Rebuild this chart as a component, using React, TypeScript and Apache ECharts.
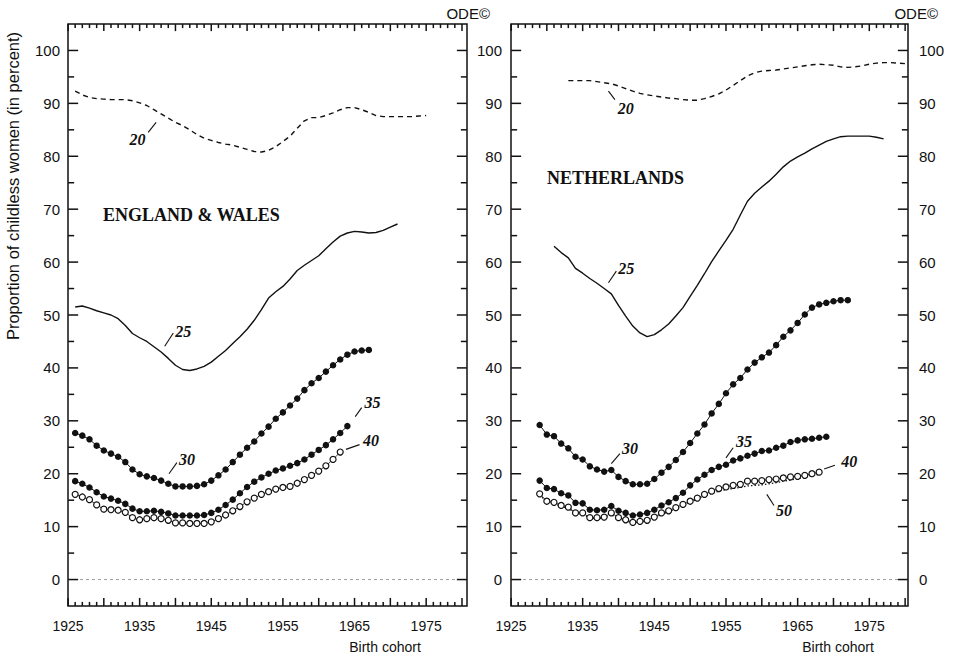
import React, { useEffect, useRef } from 'react';
import * as echarts from 'echarts';

// ---------- extents and tick positions ----------
const YEAR_MIN = 1925;
const EW_YEAR_MAX = 1980.7;
const NL_YEAR_MAX = 1980.4;
const PCT_MIN = -5;
const PCT_MAX = 105;

const yearMajorTicks = [1925, 1930, 1935, 1940, 1945, 1950, 1955, 1960, 1965, 1970, 1975, 1980];
const yearLabels = [1925, 1935, 1945, 1955, 1965, 1975];
const pctMajorTicks = [0, 10, 20, 30, 40, 50, 60, 70, 80, 90, 100];
const pctMinorTicks = [5, 15, 25, 35, 45, 55, 65, 75, 85, 95];
const yearMinorTicks: number[] = [];
for (let y = 1926; y <= 1980; y++) if (y % 5 !== 0) yearMinorTicks.push(y);

// ---------- England & Wales: proportion childless (%) by birth cohort, at each age ----------
const ew20Start = 1926;
const ew20 = [92.3, 91.6, 91.1, 90.9, 90.8, 90.7, 90.7, 90.7, 90.5, 90.1, 89.6, 88.8, 88.0, 87.2, 86.4, 85.8, 85.0, 84.1, 83.4, 83.0, 82.6, 82.3, 82.1, 81.7, 81.3, 80.9, 80.8, 81.1, 81.8, 82.8, 83.8, 85.3, 86.7, 87.3, 87.3, 87.7, 88.2, 88.8, 89.2, 89.2, 88.8, 88.3, 87.7, 87.5, 87.5, 87.5, 87.5, 87.5, 87.6, 87.7];
const ew25Start = 1926;
const ew25 = [51.5, 51.7, 51.3, 50.8, 50.4, 50.0, 49.3, 48.0, 46.5, 45.7, 45.0, 44.0, 43.0, 41.8, 40.5, 39.7, 39.5, 39.8, 40.3, 41.1, 42.2, 43.3, 44.6, 45.9, 47.3, 49.0, 51.0, 53.2, 54.4, 55.4, 56.8, 58.4, 59.4, 60.3, 61.2, 62.5, 63.8, 64.9, 65.5, 65.8, 65.7, 65.5, 65.6, 66.0, 66.6, 67.2];
const ew30Start = 1926;
const ew30 = [27.7, 27.2, 26.5, 25.3, 24.4, 23.8, 23.2, 22.2, 20.8, 19.9, 19.5, 19.2, 18.7, 18.1, 17.6, 17.6, 17.6, 17.7, 18.0, 18.7, 19.7, 20.8, 22.2, 23.6, 24.9, 26.1, 27.6, 28.9, 30.4, 31.6, 32.9, 34.2, 35.8, 37.1, 38.1, 39.3, 40.5, 41.6, 42.5, 43.1, 43.3, 43.4];
const ew35Start = 1926;
const ew35 = [18.6, 18.1, 17.4, 16.5, 15.7, 15.3, 14.9, 14.3, 13.4, 12.9, 12.9, 13.0, 12.8, 12.5, 12.1, 12.1, 12.1, 12.1, 12.2, 12.6, 13.2, 14.1, 15.1, 16.3, 17.5, 18.5, 19.3, 20.0, 20.6, 21.0, 21.5, 22.0, 22.7, 23.6, 24.5, 25.4, 26.5, 27.7, 29.0];
const ew40Start = 1926;
const ew40 = [16.1, 15.6, 15.1, 14.1, 13.3, 13.2, 13.1, 12.7, 11.7, 11.3, 11.5, 11.7, 11.5, 11.2, 10.7, 10.7, 10.6, 10.6, 10.6, 10.9, 11.5, 12.2, 13.0, 13.8, 14.7, 15.4, 16.1, 16.6, 17.1, 17.4, 17.6, 18.2, 18.9, 19.7, 20.5, 21.5, 22.7, 24.1];

// ---------- Netherlands ----------
const nl20Start = 1933;
const nl20 = [94.3, 94.3, 94.3, 94.3, 94.1, 93.9, 93.7, 93.3, 92.8, 92.3, 91.9, 91.6, 91.4, 91.2, 91.0, 90.9, 90.7, 90.6, 90.6, 90.9, 91.3, 91.8, 92.5, 93.4, 94.3, 95.2, 95.8, 96.1, 96.2, 96.3, 96.5, 96.7, 96.9, 97.1, 97.3, 97.4, 97.3, 97.2, 96.9, 96.8, 96.9, 97.1, 97.4, 97.6, 97.7, 97.7, 97.6, 97.5];
const nl25Start = 1931;
const nl25 = [63.0, 61.8, 60.8, 58.8, 57.9, 56.9, 56.0, 55.0, 54.0, 51.8, 49.8, 47.9, 46.6, 45.9, 46.3, 47.2, 48.3, 49.8, 51.4, 53.5, 55.6, 57.8, 60.1, 62.1, 64.1, 66.2, 68.9, 71.5, 73.0, 74.2, 75.3, 76.6, 78.0, 79.1, 79.9, 80.6, 81.4, 82.1, 82.8, 83.3, 83.7, 83.8, 83.8, 83.8, 83.8, 83.6, 83.3];
const nl30Start = 1929;
const nl30 = [29.2, 27.4, 27.1, 25.7, 24.8, 23.2, 22.7, 21.4, 20.8, 20.4, 20.7, 19.4, 18.6, 18.0, 18.0, 18.1, 19.0, 20.2, 21.3, 22.6, 24.1, 25.8, 27.6, 29.3, 31.4, 33.2, 35.2, 36.9, 38.1, 39.7, 41.0, 42.0, 42.9, 44.3, 45.9, 47.1, 48.5, 50.1, 51.4, 52.0, 52.3, 52.6, 52.8, 52.8];
const nl35Start = 1929;
const nl35 = [18.7, 17.3, 17.1, 16.3, 15.9, 14.5, 14.4, 13.2, 13.1, 13.2, 13.9, 13.0, 12.6, 12.1, 12.3, 12.6, 13.2, 14.0, 14.6, 15.4, 16.4, 17.8, 18.9, 19.8, 20.7, 21.3, 21.7, 22.5, 22.9, 23.4, 23.8, 24.3, 24.4, 24.9, 25.3, 26.0, 26.3, 26.5, 26.6, 26.8, 27.0];
const nl40Start = 1929;
const nl40 = [16.2, 14.8, 14.6, 14.0, 13.7, 12.6, 12.6, 11.7, 11.7, 11.8, 12.6, 11.7, 11.3, 10.8, 11.0, 11.2, 11.8, 12.6, 13.0, 13.6, 14.2, 14.8, 15.4, 16.1, 16.7, 17.2, 17.5, 17.8, 18.0, 18.6, 18.6, 18.7, 18.9, 19.0, 19.2, 19.4, 19.5, 19.7, 20.0, 20.3];
const nl50Start = 1929;
const nl50 = [16.0, 14.7, 14.4, 13.8, 13.5, 12.5, 12.4, 11.6, 11.5, 11.6, 12.3, 11.5, 11.1, 10.7, 10.9, 11.0, 11.6, 12.3, 12.8, 13.4, 14.0, 14.6, 15.2, 15.8, 16.3, 16.7, 17.0, 17.2, 17.4, 17.7, 17.8, 17.9, 18.1, 18.3, 18.6, 18.8, 19.1, 19.3, 19.6, 19.9];

// ---------- age call-outs (label centre, arrow tail, arrow head) in data units ----------
type Note = { text: string; at: number[]; from: number[]; to: number[] };
const ewNotes: Record<string, Note> = {
  a20: { text: '20', at: [1934.7, 83.2], from: [1936.2, 84.5], to: [1937.3, 86.4] },
  a25: { text: '25', at: [1941.1, 46.9], from: [1939.7, 46.6], to: [1938.5, 44.1] },
  a30: { text: '30', at: [1941.6, 22.7], from: [1940.2, 22.1], to: [1939.1, 20.0] },
  a35: { text: '35', at: [1967.5, 33.5], from: [1966.0, 32.5], to: [1965.1, 30.8] },
  a40: { text: '40', at: [1967.3, 26.3], from: [1965.7, 25.5], to: [1963.8, 24.6] },
};
const nlNotes: Record<string, Note> = {
  a20: { text: '20', at: [1941.0, 89.0], from: [1939.5, 90.7], to: [1938.6, 92.3] },
  a25: { text: '25', at: [1941.1, 58.8], from: [1939.7, 58.3], to: [1938.6, 56.1] },
  a30: { text: '30', at: [1941.6, 24.7], from: [1940.2, 23.8], to: [1939.0, 21.9] },
  a35: { text: '35', at: [1957.5, 26.0], from: [1956.0, 24.9], to: [1955.0, 23.0] },
  a40: { text: '40', at: [1972.2, 22.4], from: [1970.2, 21.6], to: [1968.7, 20.9] },
  a50: { text: '50', at: [1963.1, 13.1], from: [1961.7, 14.0], to: [1960.7, 16.1] },
};

// ---------- styling and panel geometry ----------
const INK = '#111';
const SANS = '"Liberation Sans", Arial, Helvetica, sans-serif';
const SERIF = '"Liberation Serif", "Times New Roman", serif';
const PLOT_TOP = 24;
const PLOT_H = 582;
const EW_LEFT = 68;
const EW_W = 399;
const NL_LEFT = 511;
const NL_W = 397;

const pts = (start: number, vals: number[]) => vals.map((v, i) => [start + i, v]);

function xAxis(grid: number, max: number) {
  return {
    type: 'value', gridIndex: grid, min: YEAR_MIN, max, position: 'bottom',
    splitLine: { show: false }, axisPointer: { show: false },
    axisLine: { show: false, onZero: false }, axisTick: { show: false },
    axisLabel: {
      show: true, customValues: yearLabels, margin: 13, fontFamily: SANS, fontSize: 14, color: INK,
      formatter: (v: number) => String(v),
    },
  };
}

function yAxis(grid: number, position: 'left' | 'right', margin: number) {
  return {
    type: 'value', gridIndex: grid, min: PCT_MIN, max: PCT_MAX, position,
    splitLine: { show: false }, axisPointer: { show: false },
    axisLine: { show: false, onZero: false }, axisTick: { show: false },
    axisLabel: {
      show: true, customValues: pctMajorTicks, margin, fontFamily: SANS, fontSize: 15, color: INK,
      formatter: (v: number) => String(v),
    },
  };
}

function zeroLine(grid: number, max: number) {
  return {
    type: 'line', name: 'zero', xAxisIndex: grid, yAxisIndex: grid,
    data: [[YEAR_MIN, 0], [max, 0]], showSymbol: false, symbol: 'none', silent: true, z: 1,
    lineStyle: { color: '#888', width: 0.8, type: [3, 3] },
  };
}

// Tick marks drawn as thin bar symbols just inside each side of a panel frame.
function tickMarks(grid: number, max: number) {
  const EPS_X = 0.02;
  const EPS_Y = 0.02;
  const T = 1.5;
  const mk = (name: string, data: number[][], size: number[], offset: number[]) => ({
    type: 'scatter', name, xAxisIndex: grid, yAxisIndex: grid,
    data, symbol: 'rect', symbolSize: size, symbolOffset: offset,
    itemStyle: { color: INK, borderWidth: 0, opacity: 1 },
    silent: true, z: 6, clip: false, animation: false,
    emphasis: { disabled: true },
  });
  const bottomMajor = yearMajorTicks.map((v) => [v + (v === YEAR_MIN ? EPS_X : 0), PCT_MIN + EPS_Y]);
  const bottomMinor = yearMinorTicks.map((v) => [v, PCT_MIN + EPS_Y]);
  const topMajor = yearMajorTicks.map((v) => [v + (v === YEAR_MIN ? EPS_X : 0), PCT_MAX - EPS_Y]);
  const topMinor = yearMinorTicks.map((v) => [v, PCT_MAX - EPS_Y]);
  const leftMajor = pctMajorTicks.map((v) => [YEAR_MIN + EPS_X, v]);
  const leftMinor = pctMinorTicks.map((v) => [YEAR_MIN + EPS_X, v]);
  const rightMajor = pctMajorTicks.map((v) => [max - EPS_X, v]);
  const rightMinor = pctMinorTicks.map((v) => [max - EPS_X, v]);
  return [
    mk(`tb-major-${grid}`, bottomMajor, [T, 8], [0, -4]),
    mk(`tb-minor-${grid}`, bottomMinor, [T, 4], [0, -2]),
    mk(`tt-major-${grid}`, topMajor, [T, 7], [0, 3.5]),
    mk(`tt-minor-${grid}`, topMinor, [T, 4], [0, 2]),
    mk(`tl-major-${grid}`, leftMajor, [10, T], [5, 0]),
    mk(`tl-minor-${grid}`, leftMinor, [6, T], [3, 0]),
    mk(`tr-major-${grid}`, rightMajor, [10, T], [-5, 0]),
    mk(`tr-minor-${grid}`, rightMinor, [6, T], [-3, 0]),
  ];
}

function callout(note?: Note) {
  if (!note) return {};
  return {
    markLine: {
      silent: true, animation: false,
      symbol: ['none', 'arrow'], symbolSize: [0, 8],
      lineStyle: { color: INK, width: 1.1, type: 'solid' },
      label: { show: false },
      emphasis: { disabled: true },
      data: [[{ coord: note.from }, { coord: note.to }]],
    },
    markPoint: {
      silent: true, animation: false,
      symbol: 'circle', symbolSize: 1,
      itemStyle: { color: 'rgba(0,0,0,0)' },
      label: {
        show: true, position: 'inside', formatter: note.text,
        fontFamily: SERIF, fontStyle: 'italic', fontWeight: 'bold', fontSize: 16, color: INK,
      },
      emphasis: { disabled: true },
      data: [{ coord: note.at }],
    },
  };
}

type Kind = 'dash' | 'solid' | 'dots' | 'rings' | 'fine';
function ageSeries(grid: number, name: string, kind: Kind, data: number[][], note?: Note) {
  const common: any = {
    type: 'line', name, data, xAxisIndex: grid, yAxisIndex: grid,
    silent: true, z: 3, emphasis: { disabled: true }, ...callout(note),
  };
  if (kind === 'dash') {
    return { ...common, showSymbol: false, symbol: 'none', lineStyle: { color: INK, width: 1.4, type: [5, 4] } };
  }
  if (kind === 'solid') {
    return { ...common, showSymbol: false, symbol: 'none', lineStyle: { color: INK, width: 1.4 } };
  }
  if (kind === 'fine') {
    return { ...common, showSymbol: false, symbol: 'none', z: 2, lineStyle: { color: INK, width: 1.3, type: [1.5, 2] } };
  }
  if (kind === 'dots') {
    return {
      ...common, showSymbol: true, symbol: 'circle', symbolSize: 6.5,
      itemStyle: { color: INK, borderWidth: 0 },
      lineStyle: { color: INK, width: 1 },
    };
  }
  return {
    ...common, showSymbol: true, symbol: 'circle', symbolSize: 6,
    itemStyle: { color: '#fff', borderColor: INK, borderWidth: 1.2 },
    lineStyle: { color: INK, width: 0.8 },
  };
}

function text(x: number, y: number, str: string, font: string, align: string, extra: any = {}) {
  return {
    type: 'text', x, y, silent: true, ...extra,
    style: {
      text: str, font, fill: INK,
      align, textAlign: align, verticalAlign: 'middle', textVerticalAlign: 'middle',
    },
  };
}

export default function App() {
  const ref = useRef<HTMLDivElement>(null);

  useEffect(() => {
    if (!ref.current) return;
    const chart = echarts.init(ref.current, undefined, { renderer: 'svg' });

    const frame = { show: true, borderColor: INK, borderWidth: 1.5, backgroundColor: 'transparent' };
    const option: any = {
      animation: false,
      backgroundColor: '#fff',
      textStyle: { fontFamily: SANS },
      grid: [
        { left: EW_LEFT, top: PLOT_TOP, width: EW_W, height: PLOT_H, ...frame },
        { left: NL_LEFT, top: PLOT_TOP, width: NL_W, height: PLOT_H, ...frame },
      ],
      xAxis: [xAxis(0, EW_YEAR_MAX), xAxis(1, NL_YEAR_MAX)],
      yAxis: [yAxis(0, 'left', 8), yAxis(1, 'left', 9), yAxis(1, 'right', 11)],
      series: [
        ...tickMarks(0, EW_YEAR_MAX),
        ...tickMarks(1, NL_YEAR_MAX),

        zeroLine(0, EW_YEAR_MAX),
        ageSeries(0, 'EW 20', 'dash', pts(ew20Start, ew20), ewNotes.a20),
        ageSeries(0, 'EW 25', 'solid', pts(ew25Start, ew25), ewNotes.a25),
        ageSeries(0, 'EW 30', 'dots', pts(ew30Start, ew30), ewNotes.a30),
        ageSeries(0, 'EW 35', 'dots', pts(ew35Start, ew35), ewNotes.a35),
        ageSeries(0, 'EW 40', 'rings', pts(ew40Start, ew40), ewNotes.a40),

        zeroLine(1, NL_YEAR_MAX),
        ageSeries(1, 'NL 20', 'dash', pts(nl20Start, nl20), nlNotes.a20),
        ageSeries(1, 'NL 25', 'solid', pts(nl25Start, nl25), nlNotes.a25),
        ageSeries(1, 'NL 30', 'dots', pts(nl30Start, nl30), nlNotes.a30),
        ageSeries(1, 'NL 35', 'dots', pts(nl35Start, nl35), nlNotes.a35),
        ageSeries(1, 'NL 50', 'fine', pts(nl50Start, nl50), nlNotes.a50),
        ageSeries(1, 'NL 40', 'rings', pts(nl40Start, nl40), nlNotes.a40),
      ],
      graphic: [
        text(103, 215, 'ENGLAND & WALES', `bold 18px ${SERIF}`, 'left'),
        text(547, 178, 'NETHERLANDS', `bold 18px ${SERIF}`, 'left'),
        text(490, 13, 'ODE©', `15px ${SANS}`, 'right'),
        text(938, 13, 'ODE©', `15px ${SANS}`, 'right'),
        text(385, 647, 'Birth cohort', `14px ${SANS}`, 'center'),
        text(838, 647, 'Birth cohort', `14px ${SANS}`, 'center'),
        text(13, 186, 'Proportion of childless women (in percent)', `16.5px ${SANS}`, 'center', { rotation: Math.PI / 2 }),
      ],
    };
    chart.setOption(option);

    return () => chart.dispose();
  }, []);

  return (
    <div
      ref={ref}
      style={{ position: 'absolute', left: 0, top: 0, width: 955, height: 656, background: '#fff' }}
    />
  );
}
